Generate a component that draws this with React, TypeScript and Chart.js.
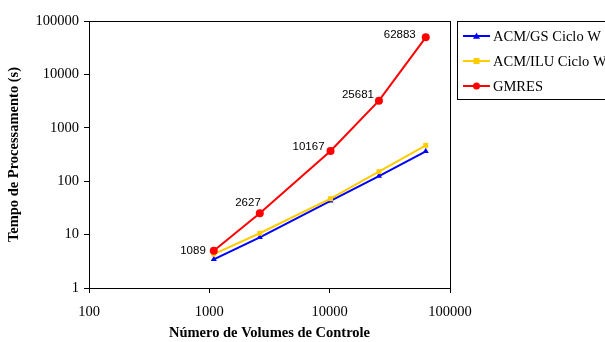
import React, { useEffect, useRef } from "react";
import { Chart, registerables } from "chart.js";

Chart.register(...registerables);

const seriesNames = ["ACM/GS Ciclo W", "ACM/ILU Ciclo W", "GMRES"];
const volumes = [1089, 2627, 10167, 25681, 62883];
const gsTimes = [3.45, 8.9, 43, 125, 363];
const iluTimes = [4.3, 10.6, 47, 151, 470];
const gmresTimes = [5.0, 25, 368, 3220, 49500];
const xTickValues = [100, 1000, 10000, 100000];
const yTickValues = [1, 10, 100, 1000, 10000, 100000];

const colors = ["#0000FF", "#FFCC00", "#FF0000"];
const pointStyles = ["triangle", "rect", "circle"];
const SERIF = "'Liberation Serif', 'Times New Roman', serif";
const SANS = "'Liberation Sans', Arial, sans-serif";

function drawMarker(ctx: CanvasRenderingContext2D, style: string, x: number, y: number, r: number, color: string) {
  ctx.save();
  ctx.fillStyle = color;
  ctx.beginPath();
  if (style === "circle") {
    ctx.arc(x, y, r, 0, Math.PI * 2);
  } else if (style === "rect") {
    ctx.rect(x - r * 0.85, y - r * 0.85, r * 1.7, r * 1.7);
  } else {
    ctx.moveTo(x, y - r);
    ctx.lineTo(x + r, y + r * 0.75);
    ctx.lineTo(x - r, y + r * 0.75);
    ctx.closePath();
  }
  ctx.fill();
  ctx.restore();
}

const framePlugin = {
  id: "frame",
  afterDraw(chart: any) {
    const { ctx, chartArea } = chart;
    ctx.save();
    ctx.strokeStyle = "#000";
    ctx.lineWidth = 1;
    ctx.strokeRect(Math.round(chartArea.left) + 0.5, Math.round(chartArea.top) + 0.5,
      Math.round(chartArea.right - chartArea.left), Math.round(chartArea.bottom - chartArea.top));
    // legend
    const lx = 457, ly = 21, lw = 160, lh = 78;
    ctx.strokeRect(lx + 0.5, ly + 0.5, lw, lh);
    seriesNames.forEach((name, i) => {
      const y = 36 + i * 25;
      ctx.strokeStyle = colors[i];
      ctx.lineWidth = 2;
      ctx.beginPath();
      ctx.moveTo(463, y);
      ctx.lineTo(490, y);
      ctx.stroke();
      drawMarker(ctx, pointStyles[i], 476.5, y, 3.5, colors[i]);
      ctx.fillStyle = "#000";
      ctx.font = `14.5px ${SERIF}`;
      ctx.textAlign = "left";
      ctx.textBaseline = "middle";
      ctx.fillText(name, 493, y + 1);
    });
    // GMRES data labels
    const meta = chart.getDatasetMeta(2);
    const dx = [-8, 1, -6, -5, -10];
    const dy = [0, -11, -4, -6, -2];
    ctx.font = `11.5px ${SANS}`;
    ctx.fillStyle = "#000";
    ctx.textAlign = "right";
    ctx.textBaseline = "middle";
    meta.data.forEach((pt: any, i: number) => {
      ctx.fillText(String(volumes[i]), pt.x + dx[i], pt.y + dy[i]);
    });
    ctx.restore();
  },
};

export default function App() {
  const ref = useRef<HTMLCanvasElement>(null);
  useEffect(() => {
    const series = [gsTimes, iluTimes, gmresTimes];
    const chart = new Chart(ref.current as HTMLCanvasElement, {
      type: "line",
      data: {
        datasets: series.map((vals, i) => ({
          label: seriesNames[i],
          data: vals.map((v, j) => ({ x: volumes[j], y: v })),
          borderColor: colors[i],
          backgroundColor: colors[i],
          borderWidth: 2,
          pointStyle: pointStyles[i] as any,
          pointRadius: i === 2 ? 4 : 3.5,
          pointBorderWidth: 0,
          order: 2 - i,
        })),
      },
      options: {
        responsive: false,
        animation: false,
        devicePixelRatio: 1,
        layout: { padding: { top: 21, right: 155, left: 0, bottom: 0 } },
        plugins: { legend: { display: false }, tooltip: { enabled: false } },
        scales: {
          x: {
            type: "logarithmic",
            min: 100,
            max: 100000,
            afterBuildTicks: (scale: any) => {
              scale.ticks = xTickValues.map((v) => ({ value: v }));
            },
            afterFit: (scale: any) => {
              scale.height = 54;
            },
            ticks: {
              callback: (v: any) => String(v),
              font: { family: SERIF, size: 14.5 },
              color: "#000",
              padding: 10,
              maxRotation: 0,
              autoSkip: false,
            },
            grid: { drawOnChartArea: false, color: "#000", tickLength: 5 },
            border: { color: "#000" },
            title: {
              display: true,
              text: "Número de Volumes de Controle",
              font: { family: SERIF, size: 14.5, weight: "bold" },
              color: "#000",
              padding: { top: 5, bottom: 0 },
            },
          },
          y: {
            type: "logarithmic",
            min: 1,
            max: 100000,
            afterBuildTicks: (scale: any) => {
              scale.ticks = yTickValues.map((v) => ({ value: v }));
            },
            afterFit: (scale: any) => {
              scale.width = 89;
            },
            ticks: {
              callback: (v: any) => String(v),
              font: { family: SERIF, size: 14.5 },
              color: "#000",
              padding: 5,
              autoSkip: false,
            },
            grid: { drawOnChartArea: false, color: "#000", tickLength: 5 },
            border: { color: "#000" },
            title: {
              display: true,
              text: "Tempo de Processamento (s)",
              font: { family: SERIF, size: 14.5, weight: "bold" },
              color: "#000",
              padding: { top: 6, bottom: 0 },
            },
          },
        },
      },
      plugins: [framePlugin],
    });
    return () => chart.destroy();
  }, []);
  return (
    <div style={{ position: "fixed", left: 0, top: 0, width: 605, height: 342, background: "#fff" }}>
      <canvas ref={ref} width={605} height={342} />
    </div>
  );
}
